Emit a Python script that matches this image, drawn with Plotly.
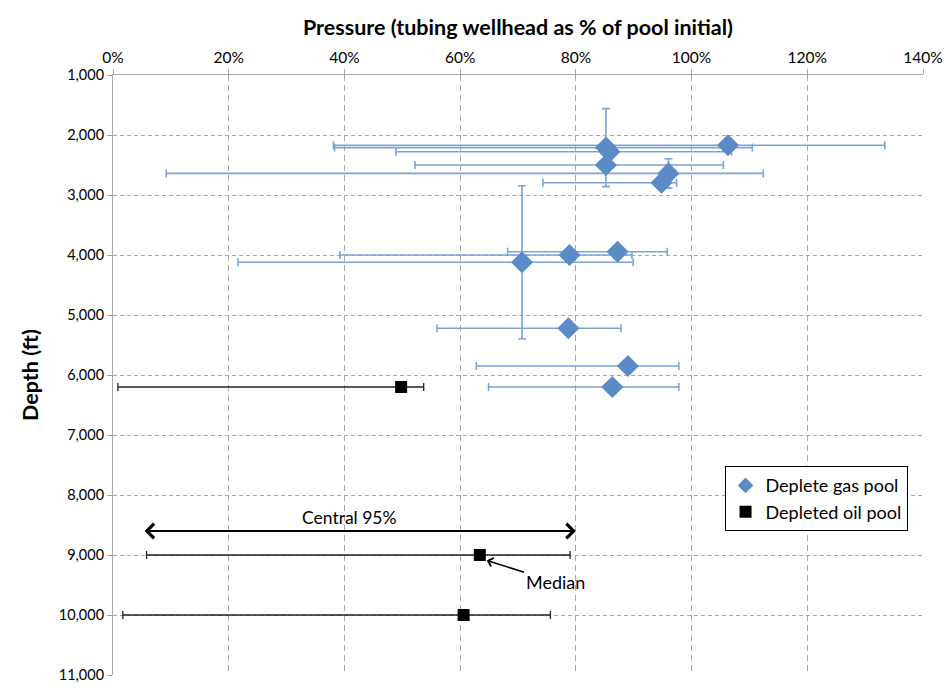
import plotly.graph_objects as go

# ---- Data (pressure as % of pool initial, depth in ft) ----
gas_pressure = [106.3, 85.2, 85.8, 85.2, 96.0, 94.8, 87.2, 78.9, 70.7, 78.7, 89.0, 86.3]
gas_depth = [2170, 2210, 2278, 2500, 2640, 2795, 3945, 4000, 4122, 5222, 5850, 6200]
gas_low = [38.1, 38.3, 48.9, 52.2, 9.2, 74.3, 68.2, 39.2, 21.6, 56.0, 62.8, 64.9]
gas_high = [133.4, 110.5, 106.9, 105.5, 112.4, 97.4, 95.8, 89.7, 89.9, 87.8, 97.8, 97.8]

# Depth error bars (only some gas points have them)
gas_vert_pressure = [85.2, 96.0, 70.7]
gas_vert_depth = [2210, 2640, 4122]
gas_vert_err = [650, 245, 1275]

oil_pressure = [49.8, 63.4, 60.6]
oil_depth = [6200, 9000, 10000]
oil_low = [0.85, 5.8, 1.7]
oil_high = [53.7, 79.0, 75.6]

central_low, central_high, central_depth = 5.2, 80.0, 8600

x_ticks = [0, 20, 40, 60, 80, 100, 120, 140]
x_tick_labels = ["0%", "20%", "40%", "60%", "80%", "100%", "120%", "140%"]
y_ticks = [1000, 2000, 3000, 4000, 5000, 6000, 7000, 8000, 9000, 10000, 11000]

FONT = "Lato"
BLUE = "#5B8BC6"
BLUE_ERR = "#7BA4D6"

fig = go.Figure()

# vertical error bars for gas points
fig.add_trace(go.Scatter(
    x=gas_vert_pressure, y=gas_vert_depth, mode="markers",
    marker=dict(size=1, color="rgba(0,0,0,0)"),
    error_y=dict(type="data", array=gas_vert_err, symmetric=True,
                 color=BLUE_ERR, thickness=1.6, width=4),
    showlegend=False, hoverinfo="skip"))

fig.add_trace(go.Scatter(
    x=gas_pressure, y=gas_depth, mode="markers", name="Deplete gas pool",
    marker=dict(symbol="diamond", size=17, color=BLUE),
    error_x=dict(type="data", symmetric=False,
                 array=[h - p for h, p in zip(gas_high, gas_pressure)],
                 arrayminus=[p - l for p, l in zip(gas_pressure, gas_low)],
                 color=BLUE_ERR, thickness=1.6, width=4)))

fig.add_trace(go.Scatter(
    x=oil_pressure, y=oil_depth, mode="markers", name="Depleted oil pool",
    marker=dict(symbol="square", size=12, color="black"),
    error_x=dict(type="data", symmetric=False,
                 array=[h - p for h, p in zip(oil_high, oil_pressure)],
                 arrayminus=[p - l for p, l in zip(oil_pressure, oil_low)],
                 color="#222222", thickness=1.3, width=4)))

# Central 95% double arrow
fig.add_annotation(x=central_high, y=central_depth, ax=central_low, ay=central_depth,
                   xref="x", yref="y", axref="x", ayref="y", text="",
                   showarrow=True, arrowhead=4, startarrowhead=4, arrowside="end+start",
                   arrowsize=1.4, arrowwidth=2, arrowcolor="black")
fig.add_annotation(x=40.8, y=8380, xref="x", yref="y", text="Central 95%",
                   showarrow=False, font=dict(family=FONT, size=17.5, color="black"))
# Median arrow
fig.add_annotation(x=64.6, y=9090, ax=76.4, ay=9450, xref="x", yref="y",
                   axref="x", ayref="y", text="Median",
                   font=dict(family=FONT, size=18, color="black"),
                   showarrow=True, arrowhead=4, arrowsize=1.1, arrowwidth=1.6,
                   arrowcolor="black", standoff=0)

fig.update_xaxes(
    side="top", range=[0, 140], tickvals=x_ticks, ticktext=x_tick_labels,
    title=dict(text="<b>Pressure (tubing wellhead as % of pool initial)</b>",
               font=dict(family=FONT, size=21.5, color="black"), standoff=6),
    tickfont=dict(family=FONT, size=15.5, color="black"),
    showgrid=True, gridcolor="#A6A6A6", griddash="6px,4px", gridwidth=1,
    showline=True, linecolor="#A6A6A6", linewidth=1,
    ticks="outside", ticklen=5, tickcolor="#A6A6A6", zeroline=False,
    automargin=False, ticklabeloverflow="allow")

fig.update_yaxes(
    range=[11000, 1000], tickvals=y_ticks, tickformat=",d",
    title=dict(text="<b>Depth (ft)</b>", font=dict(family=FONT, size=21.5, color="black"),
               standoff=14),
    tickfont=dict(family=FONT, size=14.5, color="black"),
    showgrid=True, gridcolor="#A6A6A6", griddash="4px,3px", gridwidth=1,
    showline=True, linecolor="#A6A6A6", linewidth=1,
    ticks="outside", ticklen=5, tickcolor="#A6A6A6", zeroline=False,
    automargin=False, ticklabeloverflow="allow")

# page body adds an 8px margin on every side, so the figure is sized to fit inside it
fig.update_layout(
    width=936, height=674,
    margin=dict(l=105, r=21, t=67, b=7),
    plot_bgcolor="white", paper_bgcolor="white",
    font=dict(family=FONT, color="black"),
    legend=dict(x=0.755, y=0.348, xanchor="left", yanchor="top",
                bordercolor="black", borderwidth=1, bgcolor="white",
                font=dict(family=FONT, size=18, color="black"),
                itemsizing="constant", itemwidth=30),
)

fig.write_html("out.html")
